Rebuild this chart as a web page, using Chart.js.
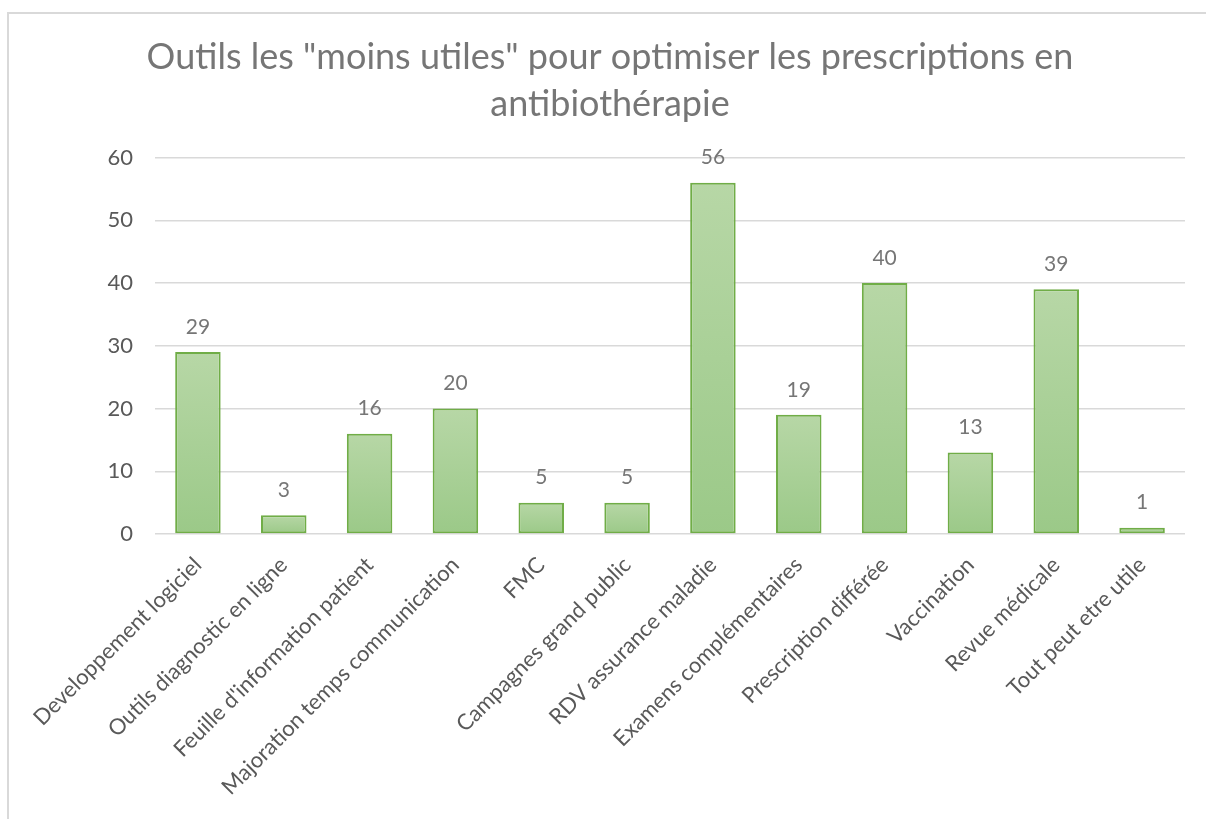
<!DOCTYPE html>
<html lang="fr">
<head>
<meta charset="utf-8">
<title>Outils les "moins utiles"</title>
<script src="https://cdn.jsdelivr.net/npm/chart.js@4.4.1/dist/chart.umd.min.js"></script>
<style>
  html, body { margin: 0; padding: 0; background: #fff; }
  body { width: 1206px; height: 819px; position: relative; overflow: hidden; }
  #cadre {
    position: absolute; left: 7px; top: 12px; width: 1300px; height: 900px;
    border-top: 2px solid #d9d9d9; border-left: 2px solid #d9d9d9;
  }
  #graphique { position: absolute; left: 0; top: 0; }
</style>
</head>
<body>
<div id="cadre"></div>
<canvas id="graphique" width="1206" height="819"></canvas>
<script>
// Données du graphique
const categories = [
  'Developpement logiciel',
  'Outils diagnostic en ligne',
  "Feuille d'information patient",
  'Majoration temps communication',
  'FMC',
  'Campagnes grand public',
  'RDV assurance maladie',
  'Examens complémentaires',
  'Prescription différée',
  'Vaccination',
  'Revue médicale',
  'Tout peut etre utile'
];
const valeurs = [29, 3, 16, 20, 5, 5, 56, 19, 40, 13, 39, 1];
const titre = ['Outils les "moins utiles" pour optimiser les prescriptions en', 'antibiothérapie'];

const police = 'Lato, "Open Sans", sans-serif';

// dégradé vertical pour chaque barre (clair en haut, plus foncé en bas)
function degradeBarre(ctx) {
  const chart = ctx.chart;
  if (!chart.chartArea || ctx.type !== 'data') return '#a9d096';
  const y = chart.scales.y;
  const haut = y.getPixelForValue(ctx.raw);
  const bas = y.getPixelForValue(0);
  if (!isFinite(haut) || haut === bas) return '#a9d096';
  const g = chart.ctx.createLinearGradient(0, haut, 0, bas);
  g.addColorStop(0, '#b7d7a6');
  g.addColorStop(1, '#9bc988');
  return g;
}

// étiquettes de valeurs au-dessus des barres
const etiquettes = {
  id: 'etiquettes',
  afterDatasetsDraw(chart) {
    const c = chart.ctx;
    const meta = chart.getDatasetMeta(0);
    c.save();
    c.font = '21px ' + police;
    c.fillStyle = '#767676';
    c.textAlign = 'center';
    c.textBaseline = 'middle';
    meta.data.forEach((barre, i) => {
      c.fillText(String(valeurs[i]), barre.x, barre.y - 25);
    });
    c.restore();
  }
};

window.addEventListener('DOMContentLoaded', () => {
  const ctx = document.getElementById('graphique').getContext('2d');
  new Chart(ctx, {
    type: 'bar',
    data: {
      labels: categories,
      datasets: [{
        data: valeurs,
        backgroundColor: degradeBarre,
        borderColor: '#70ad47',
        borderWidth: 2,
        borderSkipped: false,
        categoryPercentage: 1,
        barPercentage: 0.53
      }]
    },
    options: {
      responsive: false,
      animation: false,
      events: [],
      layout: { autoPadding: false, padding: { left: 35, right: 21, top: 0, bottom: 0 } },
      plugins: {
        legend: { display: false },
        tooltip: { enabled: false },
        title: {
          display: true,
          text: titre,
          color: '#767676',
          font: { family: police, size: 36, weight: 'normal', lineHeight: 1.3 },
          padding: { top: 34, bottom: 30 }
        }
      },
      scales: {
        x: {
          grid: { display: false, drawTicks: false },
          border: { display: false },
          ticks: {
            color: '#595959',
            font: { family: police, size: 22 },
            autoSkip: false,
            minRotation: 45,
            maxRotation: 45,
            padding: 18
          },
          afterFit: (s) => { s.height = 285; }
        },
        y: {
          min: 0,
          max: 60,
          ticks: {
            stepSize: 10,
            color: '#595959',
            font: { family: police, size: 22 },
            padding: 22
          },
          grid: { color: '#d9d9d9', lineWidth: 1.5, drawTicks: false },
          border: { display: false },
          afterFit: (s) => { s.width = 120; }
        }
      }
    },
    plugins: [etiquettes]
  });
});
</script>
</body>
</html>
